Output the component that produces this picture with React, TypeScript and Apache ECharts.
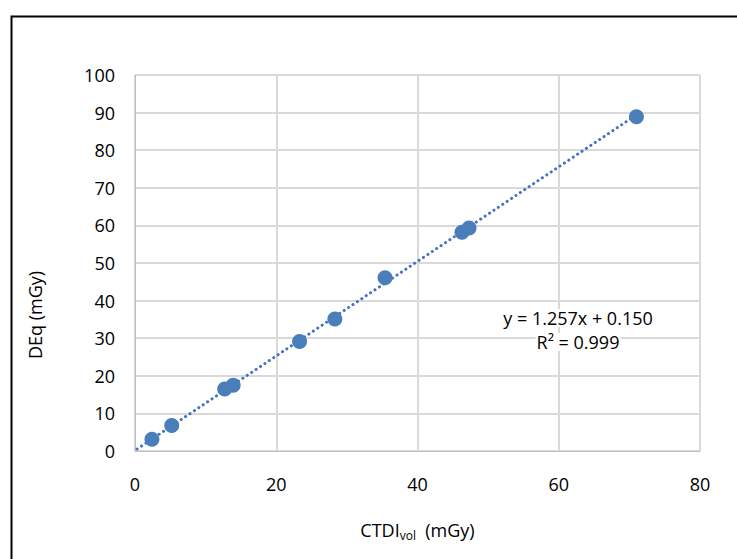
import React, { useEffect, useRef } from "react";
import * as echarts from "echarts";

const ctdiVol = [2.4, 5.2, 12.7, 13.9, 23.3, 28.3, 35.4, 46.3, 47.3, 71.0];
const deq = [3.1, 6.8, 16.5, 17.5, 29.1, 35.1, 46.1, 58.2, 59.3, 88.9];
const trendSlope = 1.257;
const trendIntercept = 0.15;
const trendRange = [0.3, 71.0];
const equationLines = ["y = 1.257x + 0.150", "R² = 0.999"];

export default function App() {
  const ref = useRef<HTMLDivElement>(null);
  useEffect(() => {
    if (!ref.current) return;
    const chart = echarts.init(ref.current, null, { renderer: "svg" });
    const font = "'Open Sans', Calibri, Carlito, sans-serif";
    const points = ctdiVol.map((x, i) => [x, deq[i]]);
    const trend = trendRange.map((x) => [x, trendSlope * x + trendIntercept]);
    chart.setOption({
      animation: false,
      backgroundColor: "#ffffff",
      grid: { left: 135, right: 37, top: 75, bottom: 108 },
      xAxis: {
        type: "value",
        min: 0,
        max: 80,
        interval: 20,
        name: "{main|CTDI}{sub|vol}{main|  (mGy)}",
        nameLocation: "middle",
        nameGap: 68,
        nameTextStyle: {
          rich: {
            main: { fontFamily: font, fontSize: 18, color: "#000" },
            sub: { fontFamily: font, fontSize: 12, color: "#000", padding: [10, 0, 0, 0] },
          },
        },
        axisLine: { show: true, lineStyle: { color: "#bfbfbf", width: 1 } },
        axisTick: { show: false },
        splitLine: { show: true, lineStyle: { color: "#d9d9d9", width: 2 } },
        axisLabel: { fontFamily: font, fontSize: 18, color: "#000", margin: 24 },
      },
      yAxis: {
        type: "value",
        min: 0,
        max: 100,
        interval: 10,
        axisLine: { show: true, lineStyle: { color: "#bfbfbf", width: 1 } },
        axisTick: { show: false },
        splitLine: { show: true, lineStyle: { color: "#d9d9d9", width: 2 } },
        axisLabel: { fontFamily: font, fontSize: 18, color: "#000", margin: 20 },
      },
      series: [
        {
          type: "line",
          data: trend,
          symbol: "none",
          lineStyle: { color: "#4472c4", width: 3, type: [0.1, 5.2], cap: "round" },
          z: 2,
        },
        {
          type: "scatter",
          data: points,
          symbolSize: 15,
          itemStyle: { color: "#4a7ebb", opacity: 1 },
          z: 3,
        },
      ],
      graphic: [
        {
          type: "rect",
          left: 9,
          top: 14,
          shape: { width: 800, height: 700 },
          style: { fill: "none", stroke: "#000", lineWidth: 2 },
          silent: true,
        },
        {
          type: "text",
          x: 35,
          y: 315,
          rotation: Math.PI / 2,
          style: {
            text: "DEq (mGy)",
            font: `18px ${font}`,
            fill: "#000",
            textAlign: "center",
            textVerticalAlign: "middle",
          },
        },
        {
          type: "text",
          x: 578,
          y: 318,
          z: 51,
          style: {
            text: equationLines[0],
            font: `18px ${font}`,
            fill: "#000",
            textAlign: "center",
            textVerticalAlign: "middle",
            backgroundColor: "#ffffff",
            padding: [0, 1],
          },
        },
        {
          type: "text",
          x: 578,
          y: 342,
          z: 51,
          style: {
            text: equationLines[1],
            font: `18px ${font}`,
            fill: "#000",
            textAlign: "center",
            textVerticalAlign: "middle",
            backgroundColor: "#ffffff",
            padding: [0, 1],
          },
        },
      ],
    });
    return () => chart.dispose();
  }, []);
  return <div ref={ref} style={{ width: 737, height: 559, position: "absolute", left: 0, top: 0 }} />;
}
